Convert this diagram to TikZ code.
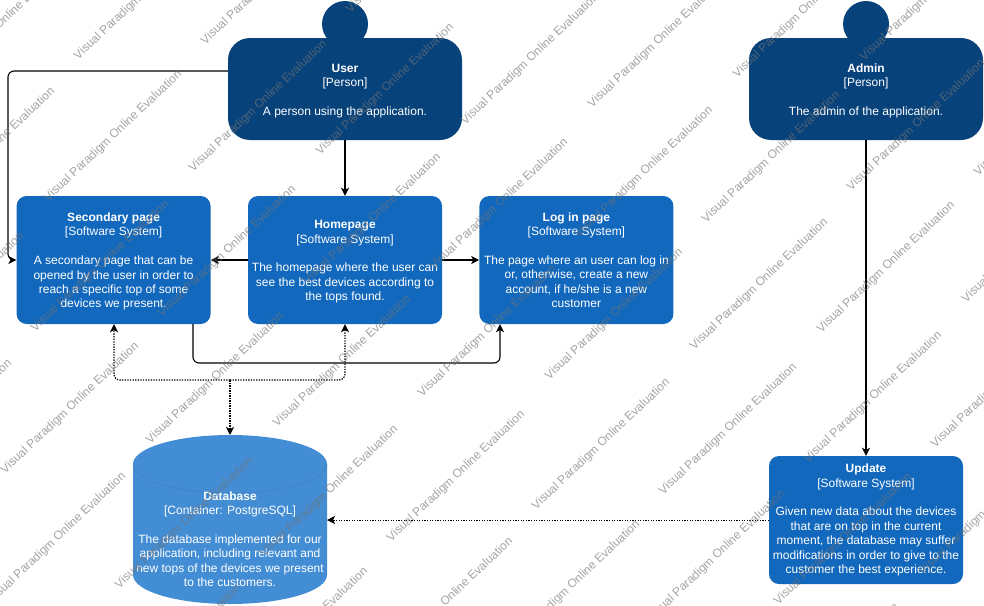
\documentclass[tikz,border=0pt]{standalone}
\usepackage{fontspec}
\setmainfont{Liberation Sans}
\usetikzlibrary{positioning}
\usetikzlibrary{arrows.meta}
\definecolor{personcol}{HTML}{08427B}
\definecolor{systemcol}{HTML}{1168BD}
\definecolor{dbcol}{HTML}{438DD5}
\definecolor{dblinecol}{HTML}{3C7FC0}
\newcommand{\boxname}[1]{\rule{0pt}{12pt}\textbf{#1}}
\tikzset{>={Stealth[length=8pt,width=8pt,inset=2pt]}}
\tikzset{
  boxtext/.style={text=white, align=center, font=\fontsize{12}{14.4}\selectfont},
  personbox/.style={boxtext, fill=personcol, rounded corners=22pt, minimum width=234pt, minimum height=102pt, inner sep=0pt},
  personhead/.style={circle, fill=personcol, minimum size=46pt, inner sep=0pt},
  sysbox/.style={boxtext, fill=systemcol, rounded corners=10pt, minimum width=194pt, minimum height=128pt, inner sep=0pt},
  rel/.style={->, line width=1.1pt, rounded corners=6pt},
  relthick/.style={->, line width=1.4pt},
  reldot/.style={->, line width=1.2pt, dash pattern=on 1.3pt off 1.3pt, rounded corners=6pt},
  watermark/.style={text=black!55, opacity=0.65, rotate=43.5, anchor=west, inner sep=0pt, font=\fontsize{12}{14}\selectfont}
}

\begin{document}
\begin{tikzpicture}[x=1pt, y=-1pt]
\useasboundingbox (0,0) rectangle (984,605);

% Persons
\node[personhead] (userhead) at (345,24) {};
\node[personbox] (user) at (345,89) {\boxname{User}\\{}[Person]\\[14.4pt]A person using the application.};
\node[personhead] (adminhead) at (866,24) {};
\node[personbox] (admin) at (866,89) {\boxname{Admin}\\{}[Person]\\[14.4pt]The admin of the application.};

% Software systems
\node[sysbox] (homepage) at (345,260) {\boxname{Homepage}\\{}[Software System]\\[14.4pt]The homepage where the user can\\see the best devices according to\\the tops found.};
\node[sysbox, left=37pt of homepage] (secondary) {\boxname{Secondary page}\\{}[Software System]\\[14.4pt]A secondary page that can be\\opened by the user in order to\\reach a specific top of some\\devices we present.};
\node[sysbox, right=37pt of homepage] (login) {\textbf{Log in page}\\{}[Software System]\\[14.4pt]The page where an user can log in\\or, otherwise, create a new\\account, if he/she is a new\\customer};
\node[sysbox] (update) at (866,520) {\textbf{Update}\\{}[Software System]\\[14.4pt]Given new data about the devices\\that are on top in the current\\moment, the database may suffer\\modifications in order to give to the\\customer the best experience.};

% Database
\coordinate (dbtop) at (230,435);
\coordinate (dbside) at (327,520);
\fill[dbcol] (133,464) arc (180:0:97pt and 29pt) -- (327,575) arc (0:-180:97pt and 29pt) -- cycle;
\draw[dblinecol] (133,464) arc (180:360:97pt and 29pt);
\node[boxtext] (dbtext) at (230,537.5) {\boxname{Database}\\{}[Container: PostgreSQL]\\[14.4pt]The database implemented for our\\application, including relevant and\\new tops of the devices we present\\to the customers.};

% Bend points
\coordinate (userbend1) at (8,71);
\coordinate (userbend2) at (8,260);
\coordinate (secbend1) at (193,363);
\coordinate (secbend2) at (500,363);
\coordinate (dbjoin) at (230,380);
\coordinate (dbleft) at (114,380);
\coordinate (dbright) at (345,380);

% Solid connectors
\draw[rel] (user.west |- userbend1) -- (userbend1) -- (userbend2) -- (secondary.west);
\draw[relthick] (user) -- (homepage);
\draw[rel] (homepage) -- (secondary);
\draw[rel] (homepage) -- (login);
\draw[rel] (secondary.south -| secbend1) -- (secbend1) -- (secbend2) -- (login.south -| secbend2);
\draw[relthick] (admin) -- (update);

% Dotted connectors
\draw[reldot] (dbjoin) -- (dbleft) -- (secondary.south -| dbleft);
\draw[reldot] (dbjoin) -- (dbright) -- (homepage.south);
\draw[reldot, line width=2pt, dash pattern=on 1.5pt off 1pt] (dbjoin) -- (dbtop);
\draw[reldot, line width=0.9pt] (update.west) -- (dbside);

% Evaluation watermark
\foreach \sx/\sy in {46/200,191/170,33/330,160/315}
  \foreach \k in {-2,...,4}
    \foreach \m in {-1,...,2}
      \node[watermark] (wm-\sx-\k-\m) at ({\sx+\k*272-\m*43},{\sy-\k*47+\m*272}) {Visual Paradigm Online Evaluation};

\end{tikzpicture}
\end{document}
